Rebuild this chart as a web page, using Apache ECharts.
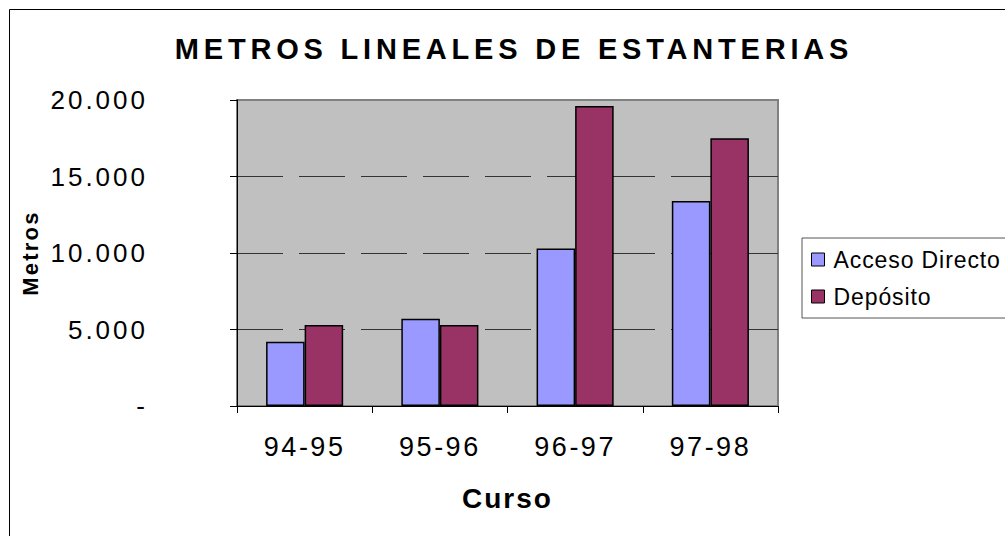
<!DOCTYPE html>
<html>
<head>
<meta charset="utf-8">
<script src="https://cdn.jsdelivr.net/npm/echarts@6/dist/echarts.min.js"></script>
<style>
    html, body { margin: 0; padding: 0; background: #fff; }
    #chart { width: 1005px; height: 536px; }
    /* Excel-like wide letter spacing, keyed on font size */
    #chart text[style*="29px"] { letter-spacing: 4.8px; }
    #chart text[style*="26px"] { letter-spacing: 3px; }
    #chart text[style*="27px"] { letter-spacing: 2.5px; }
    #chart text[style*="22px"] { letter-spacing: 2.2px; }
    #chart text[style*="28px"] { letter-spacing: 2px; }
    #chart text[style*="23px"] { letter-spacing: 0.9px; }
</style>
</head>
<body>
<div id="chart"></div>
<script>
var cursos = ['94-95', '95-96', '96-97', '97-98'];
var accesoDirecto = [4200, 5700, 10300, 13400];
var deposito = [5300, 5300, 19600, 17500];
var yTicks = [0, 5000, 10000, 15000, 20000];

var font = 'Liberation Sans, Arial, sans-serif';

var myChart = echarts.init(document.getElementById('chart'), null, { renderer: 'svg' });

var option = {
    backgroundColor: '#ffffff',
    animation: false,
    graphic: [
        {
            type: 'rect',
            shape: { x: 9.5, y: 9.5, width: 1100, height: 600 },
            style: { fill: 'none', stroke: '#000', lineWidth: 1 },
            z: -1
        },
        {
            type: 'text',
            x: 514,
            y: 49,
            style: {
                text: 'METROS LINEALES DE ESTANTERIAS',
                fontFamily: font,
                fontSize: 29,
                fontWeight: 'bold',
                fill: '#000',
                textAlign: 'center',
                textVerticalAlign: 'middle'
            }
        }
    ],
    legend: {
        orient: 'vertical',
        left: 802,
        top: 238,
        padding: [10, 40, 10, 9],
        itemWidth: 13,
        itemHeight: 13,
        itemGap: 14,
        icon: 'rect',
        borderColor: '#555',
        borderWidth: 1,
        itemStyle: { borderColor: '#000', borderWidth: 1 },
        textStyle: { fontFamily: font, fontSize: 23, color: '#000', padding: [0, 0, 0, 4] },
        data: ['Acceso Directo', 'Depósito']
    },
    grid: {
        left: 237,
        top: 100,
        right: 227,
        bottom: 130,
        show: true,
        backgroundColor: '#C0C0C0',
        borderColor: '#808080',
        borderWidth: 2
    },
    xAxis: {
        type: 'category',
        data: cursos,
        boundaryGap: true,
        name: 'Curso',
        nameLocation: 'middle',
        nameGap: 78,
        nameTextStyle: { fontFamily: font, fontSize: 28, fontWeight: 'bold', color: '#000' },
        axisLine: { lineStyle: { color: '#000', width: 1 } },
        axisTick: { show: true, length: 7, lineStyle: { color: '#000' } },
        axisLabel: { fontFamily: font, fontSize: 27, color: '#000', margin: 27 }
    },
    yAxis: {
        type: 'value',
        min: yTicks[0],
        max: yTicks[yTicks.length - 1],
        interval: 5000,
        name: 'Metros',
        nameLocation: 'middle',
        nameGap: 196,
        nameRotate: 90,
        nameTextStyle: { fontFamily: font, fontSize: 22, fontWeight: 'bold', color: '#000' },
        axisLine: { show: true, lineStyle: { color: '#000', width: 1 } },
        axisTick: { show: true, length: 7, lineStyle: { color: '#000' } },
        axisLabel: {
            fontFamily: font,
            fontSize: 26,
            color: '#000',
            margin: 89,
            formatter: function (v) {
                if (v === 0) return '-';
                return String(v).replace(/\B(?=(\d{3})+(?!\d))/g, '.');
            }
        },
        splitLine: {
            show: true,
            showMinLine: false,
            showMaxLine: false,
            lineStyle: { color: '#333', width: 1, type: [46, 16] }
        }
    },
    series: [
        {
            name: 'Acceso Directo',
            type: 'bar',
            data: accesoDirecto,
            barGap: '0%',
            barCategoryGap: '43%',
            itemStyle: { color: '#9999FF', borderColor: '#000', borderWidth: 1.5 }
        },
        {
            name: 'Depósito',
            type: 'bar',
            data: deposito,
            barGap: '0%',
            barCategoryGap: '43%',
            itemStyle: { color: '#993366', borderColor: '#000', borderWidth: 1.5 }
        }
    ]
};

myChart.setOption(option);

window.addEventListener('resize', function () {
    myChart.resize();
});
</script>
</body>
</html>
